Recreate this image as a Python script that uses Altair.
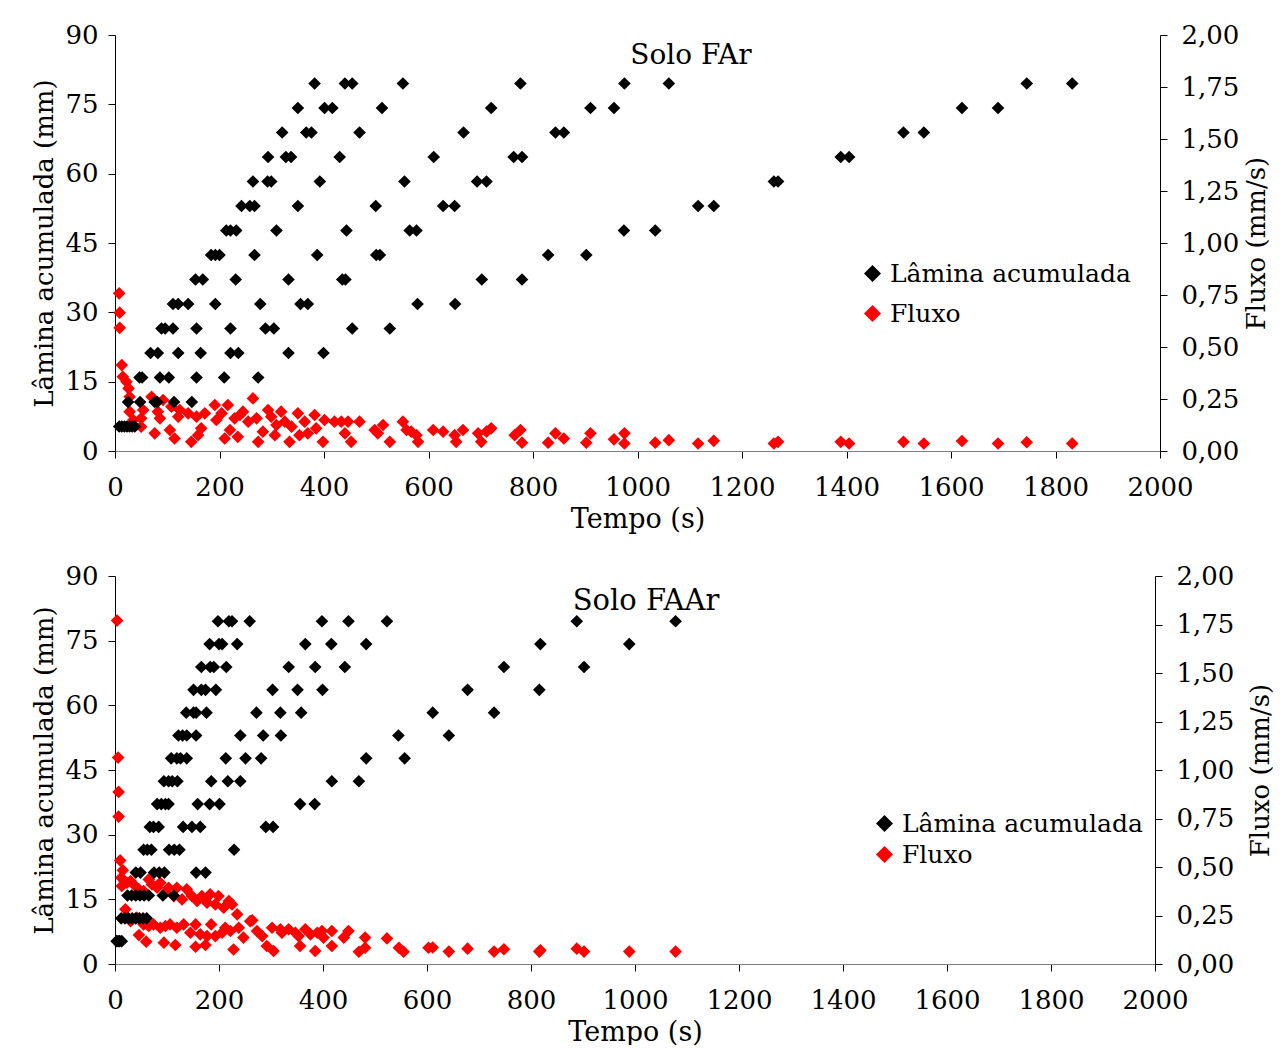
import altair as alt
import pandas as pd

FONT = "DejaVu Serif"
SERIES = ["Lâmina acumulada", "Fluxo"]
LEVELS = [5.3, 10.6, 15.9, 21.2, 26.5, 31.8, 37.1, 42.4, 47.7, 53.0, 58.3, 63.6, 68.9, 74.2, 79.5]
X_TICKS = list(range(0, 2001, 200))
Y_TICKS = [0, 15, 30, 45, 60, 75, 90]
Y2_TICKS = [0, 0.25, 0.5, 0.75, 1.0, 1.25, 1.5, 1.75, 2.0]

# ---- Solo FAr : times (s) at which each accumulated level was reached
FAR_TIMES = [
    [8, 13, 18, 23, 28, 33, 38],
    [25, 48, 76, 81, 113, 147],
    [47, 52, 86, 103, 156, 209, 274],
    [68, 82, 121, 164, 221, 236, 332, 399],
    [89, 96, 111, 156, 221, 288, 304, 454, 526],
    [111, 121, 140, 192, 278, 355, 369, 579, 651],
    [154, 168, 231, 332, 435, 441, 702, 779],
    [184, 192, 200, 267, 387, 500, 507, 829, 902],
    [213, 221, 232, 309, 443, 564, 577, 974, 1034],
    [242, 258, 267, 350, 499, 628, 650, 1116, 1146],
    [264, 292, 299, 392, 554, 693, 711, 1261, 1269],
    [293, 327, 337, 430, 610, 763, 779, 1389, 1405],
    [320, 366, 376, 468, 667, 843, 859, 1509, 1548],
    [350, 401, 416, 511, 720, 910, 955, 1621, 1690],
    [382, 440, 454, 551, 776, 975, 1060, 1745, 1832],
]
FAR_FLUX_T = [8, 9, 9, 13, 15, 22, 26, 28, 28, 35, 50, 54, 50, 70, 76, 82, 86, 92, 105, 108,
              114, 121, 124, 140, 146, 156, 159, 165, 172, 191, 194, 204, 210, 216, 220, 229,
              235, 239, 245, 255, 264, 271, 274, 283, 293, 299, 306, 309, 318, 325, 334, 338,
              350, 353, 363, 369, 382, 385, 398, 401, 420, 433, 440, 446, 452, 468, 497, 503,
              513, 526, 551, 558, 567, 577, 580, 609, 628, 650, 653, 666, 695, 701, 711, 720,
              765, 776, 779, 829, 843, 859, 902, 910, 955, 975, 975, 1034, 1060, 1116, 1146,
              1261, 1269, 1389, 1405, 1509, 1548, 1621, 1690, 1745, 1832]
FAR_FLUX_V = [0.758, 0.665, 0.592, 0.413, 0.357, 0.333, 0.301, 0.261, 0.189, 0.149, 0.157, 0.197,
              0.117, 0.261, 0.085, 0.189, 0.157, 0.245, 0.101, 0.213, 0.060, 0.165, 0.197, 0.181,
              0.044, 0.165, 0.076, 0.109, 0.181, 0.221, 0.149, 0.181, 0.060, 0.221, 0.101, 0.157,
              0.068, 0.173, 0.189, 0.141, 0.253, 0.157, 0.044, 0.093, 0.197, 0.165, 0.076, 0.125,
              0.189, 0.141, 0.044, 0.117, 0.181, 0.076, 0.141, 0.085, 0.173, 0.109, 0.044, 0.149,
              0.141, 0.141, 0.085, 0.141, 0.044, 0.141, 0.101, 0.085, 0.125, 0.044, 0.141, 0.101,
              0.093, 0.076, 0.044, 0.101, 0.093, 0.076, 0.044, 0.101, 0.085, 0.044, 0.093, 0.109,
              0.076, 0.101, 0.040, 0.040, 0.085, 0.060, 0.040, 0.085, 0.056, 0.085, 0.036, 0.040,
              0.052, 0.036, 0.049, 0.036, 0.044, 0.044, 0.036, 0.044, 0.036, 0.048, 0.036, 0.042,
              0.036]

# ---- Solo FAAr
FAAR_TIMES = [
    [3, 6, 9, 13],
    [12, 19, 26, 33, 40, 47, 54, 61],
    [24, 32, 40, 48, 56, 65, 92, 113],
    [40, 49, 75, 85, 95, 156, 174],
    [55, 62, 70, 104, 114, 124, 229],
    [67, 74, 84, 131, 148, 164, 290, 304],
    [81, 89, 97, 103, 159, 182, 201, 356, 384],
    [94, 103, 110, 120, 185, 217, 241, 417, 469],
    [108, 119, 126, 138, 213, 251, 281, 483, 557],
    [122, 130, 138, 156, 241, 285, 319, 545, 642],
    [137, 151, 156, 176, 272, 318, 358, 611, 729],
    [151, 166, 174, 194, 303, 351, 399, 678, 816],
    [166, 183, 190, 214, 334, 385, 442, 748, 902],
    [182, 200, 206, 235, 366, 416, 483, 818, 989],
    [198, 219, 225, 259, 398, 449, 523, 888, 1078],
]
FAAR_FLUX_T = [4, 6, 7, 7, 10, 15, 12, 18, 13, 23, 30, 36, 46, 55, 65, 71, 81, 87, 97, 103,
               113, 119, 129, 138, 148, 158, 167, 177, 183, 193, 199, 209, 219, 225, 235,
               20, 30, 42, 55, 65, 74, 87, 97, 106, 119, 132, 145, 155, 164, 177, 185, 193,
               206, 212, 222, 238, 247, 260, 273, 283,
               46, 60, 94, 116, 155, 174, 228,
               264, 292, 302, 305, 318, 321, 334, 347, 353, 356, 366, 376, 385, 389, 398, 401,
               417, 417, 440, 449, 469, 481, 481, 523, 546, 555, 603,
               611, 642, 678, 729, 748, 816, 818, 888, 902, 989, 1078]
FAAR_FLUX_V = [1.77, 1.064, 0.887, 0.760, 0.534, 0.483, 0.445, 0.428, 0.402, 0.419, 0.428, 0.410,
               0.385, 0.376, 0.436, 0.410, 0.393, 0.419, 0.367, 0.393, 0.350, 0.393, 0.333, 0.385,
               0.350, 0.325, 0.350, 0.316, 0.359, 0.307, 0.350, 0.290, 0.325, 0.307, 0.256,
               0.282, 0.221, 0.239, 0.204, 0.196, 0.204, 0.187, 0.196, 0.204, 0.187, 0.204, 0.161,
               0.204, 0.153, 0.144, 0.204, 0.144, 0.161, 0.187, 0.170, 0.187, 0.136, 0.221, 0.170,
               0.144,
               0.149, 0.115, 0.110, 0.098, 0.089, 0.098, 0.075,
               0.225, 0.093, 0.187, 0.067, 0.179, 0.161, 0.179, 0.161, 0.144, 0.093, 0.179, 0.153,
               0.067, 0.161, 0.170, 0.136, 0.170, 0.093, 0.136, 0.170, 0.063, 0.136, 0.084, 0.132,
               0.084, 0.063, 0.084,
               0.085, 0.064, 0.079, 0.064, 0.076, 0.064, 0.071, 0.079, 0.064, 0.064, 0.064]


def lam_frame(times):
    rows = []
    for lvl, ts in zip(LEVELS, times):
        for t in ts:
            rows.append({"t": t, "v": lvl, "serie": SERIES[0]})
    return pd.DataFrame(rows)


def flux_frame(ts, vs):
    return pd.DataFrame({"t": ts, "v": vs, "serie": [SERIES[1]] * len(ts)})


def panel(times, fts, fvs, title, w, h, tx, ty, tsize, lx, ly, rowpad, rtx):
    color = alt.Color(
        "serie:N",
        scale=alt.Scale(domain=SERIES, range=["#000000", "#ff0000"]),
        legend=alt.Legend(
            orient="none", legendX=lx, legendY=ly, title=None, symbolType="diamond",
            symbolSize=290, labelFontSize=25, labelFont=FONT, rowPadding=rowpad,
            labelOffset=5, padding=0, symbolStrokeWidth=0, labelColor="#000000",
            labelLimit=500,
        ),
    )
    xenc = alt.X(
        "t:Q",
        scale=alt.Scale(domain=[0, 2000], nice=False),
        axis=alt.Axis(values=X_TICKS, title="Tempo (s)", domainColor="#808080",
                      labelPadding=16, titlePadding=6, format="d", titleFontSize=27),
    )
    red = alt.Chart(flux_frame(fts, fvs)).mark_point(
        shape="diamond", filled=True, size=160, opacity=1, strokeWidth=0
    ).encode(
        x=xenc,
        y=alt.Y("v:Q", scale=alt.Scale(domain=[0, 2], nice=False),
                axis=alt.Axis(orient="right", values=Y2_TICKS, title="Fluxo (mm/s)",
                              labelExpr="replace(format(datum.value, '.2f'), '.', ',')",
                              titleAngle=270, labelPadding=14, titleX=rtx, titleY=h / 2,
                              titleAlign="center", titleBaseline="middle")),
        color=color,
    )
    black = alt.Chart(lam_frame(times)).mark_point(
        shape="diamond", filled=True, size=160, opacity=1, strokeWidth=0
    ).encode(
        x=xenc,
        y=alt.Y("v:Q", scale=alt.Scale(domain=[0, 90], nice=False),
                axis=alt.Axis(orient="left", values=Y_TICKS, title="Lâmina acumulada (mm)",
                              labelPadding=10, titlePadding=7)),
        color=color,
    )
    txt = alt.Chart(pd.DataFrame({"label": [title]})).mark_text(
        font=FONT, fontSize=tsize, color="#000000", align="center", baseline="middle"
    ).encode(text="label:N", x=alt.value(tx), y=alt.value(ty))
    return alt.layer(red, black, txt).resolve_scale(y="independent").properties(
        width=w, height=h
    )


top = panel(FAR_TIMES, FAR_FLUX_T, FAR_FLUX_V, "Solo FAr", 1045, 416, 576, 21, 28,
            745, 226, 14, 96)
bottom = panel(FAAR_TIMES, FAAR_FLUX_T, FAAR_FLUX_V, "Solo FAAr", 1040, 388, 531, 25, 29,
               757, 235, 5, 105)

chart = alt.vconcat(top, bottom, spacing=31).resolve_scale(color="independent").resolve_legend(
    color="independent"
).properties(
    padding={"left": 23, "top": 14, "right": 0, "bottom": 0}
).configure_view(stroke=None).configure_axis(
    labelFont=FONT, titleFont=FONT, labelFontSize=26, titleFontSize=26,
    titleFontWeight="normal", labelColor="#000000", titleColor="#000000",
    tickColor="#000000", domainColor="#000000", tickSize=7, grid=False,
    labelFlush=False, labelOverlap=False,
).configure_legend(labelFont=FONT)

chart.save("out.html", embed_options={"renderer": "svg", "actions": False})
